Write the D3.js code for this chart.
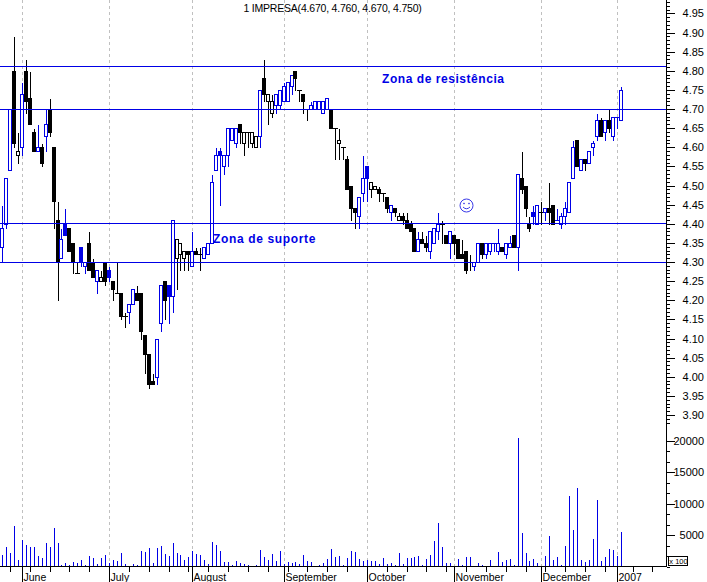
<!DOCTYPE html>
<html>
<head>
<meta charset="utf-8">
<script src="https://cdn.jsdelivr.net/npm/d3@7"></script>
<style>
  html, body { margin: 0; padding: 0; background: #fff; }
  svg { display: block; font-family: "Liberation Sans", Arial, sans-serif; }
  text { fill: #000; }
</style>
</head>
<body>
<div id="js_chart"></div>
<script>
// daily prices, one row per ten sessions
const opens = [
  4.34,4.40,4.54,4.80,4.58,4.60,4.80,4.73,4.64,4.59,
  4.60,4.63,4.70,4.60,4.41,4.31,4.40,4.39,4.35,4.27,
  4.34,4.29,4.35,4.30,4.25,4.25,4.30,4.28,4.25,4.22,
  4.22,4.16,4.17,4.19,4.22,4.22,4.11,4.06,3.99,4.00,
  4.14,4.25,4.24,4.21,4.31,4.32,4.31,4.33,4.29,4.33,
  4.32,4.31,4.32,4.35,4.54,4.59,4.55,4.58,4.62,4.61,
  4.66,4.61,4.64,4.61,4.60,4.63,4.78,4.72,4.69,4.71,
  4.71,4.72,4.72,4.76,4.80,4.75,4.74,4.70,4.70,4.70,
  4.70,4.69,4.70,4.70,4.65,4.61,4.60,4.57,4.50,4.44,
  4.42,4.48,4.55,4.49,4.49,4.49,4.48,4.47,4.43,4.44,
  4.41,4.42,4.41,4.40,4.39,4.33,4.36,4.35,4.33,4.35,
  4.38,4.40,4.37,4.35,4.37,4.36,4.32,4.33,4.30,4.29,
  4.30,4.35,4.32,4.33,4.35,4.33,4.34,4.32,4.34,4.37,
  4.34,4.52,4.50,4.40,4.43,4.40,4.43,4.43,4.44,4.45,
  4.41,4.40,4.42,4.43,4.52,4.62,4.54,4.57,4.56,4.60,
  4.63,4.67,4.64,4.67,4.63,4.68,4.67
];
const highs = [
  4.45,4.52,4.70,4.89,4.64,4.77,4.83,4.80,4.65,4.66,
  4.61,4.70,4.73,4.60,4.46,4.39,4.44,4.39,4.35,4.30,
  4.34,4.30,4.38,4.31,4.28,4.28,4.30,4.29,4.25,4.30,
  4.22,4.17,4.19,4.23,4.24,4.22,4.11,4.06,4.01,4.10,
  4.24,4.25,4.24,4.41,4.36,4.35,4.33,4.33,4.38,4.34,
  4.34,4.34,4.35,4.53,4.60,4.60,4.58,4.65,4.65,4.65,
  4.66,4.64,4.64,4.64,4.63,4.75,4.83,4.74,4.74,4.74,
  4.75,4.77,4.77,4.79,4.80,4.75,4.74,4.70,4.72,4.72,
  4.72,4.72,4.73,4.70,4.65,4.65,4.60,4.58,4.50,4.44,
  4.47,4.58,4.55,4.51,4.50,4.50,4.48,4.47,4.45,4.44,
  4.43,4.43,4.43,4.41,4.39,4.38,4.38,4.37,4.38,4.39,
  4.43,4.41,4.37,4.38,4.37,4.36,4.36,4.33,4.32,4.30,
  4.35,4.35,4.35,4.35,4.35,4.39,4.34,4.35,4.37,4.37,
  4.53,4.59,4.50,4.42,4.45,4.45,4.46,4.44,4.51,4.45,
  4.44,4.43,4.46,4.51,4.62,4.62,4.57,4.57,4.59,4.62,
  4.69,4.68,4.67,4.70,4.68,4.68,4.76
];
const lows = [
  4.30,4.39,4.54,4.60,4.56,4.58,4.69,4.66,4.59,4.59,
  4.55,4.59,4.63,4.39,4.20,4.31,4.37,4.33,4.27,4.27,
  4.29,4.27,4.28,4.26,4.22,4.25,4.24,4.25,4.20,4.22,
  4.15,4.13,4.14,4.19,4.20,4.10,4.01,3.97,3.98,3.98,
  4.12,4.15,4.14,4.17,4.23,4.28,4.28,4.28,4.29,4.32,
  4.28,4.31,4.32,4.35,4.54,4.45,4.53,4.55,4.62,4.60,
  4.61,4.58,4.60,4.60,4.60,4.60,4.72,4.66,4.68,4.69,
  4.70,4.72,4.72,4.74,4.75,4.72,4.69,4.67,4.70,4.70,
  4.70,4.69,4.70,4.65,4.57,4.57,4.57,4.49,4.41,4.39,
  4.39,4.46,4.46,4.47,4.49,4.46,4.46,4.43,4.41,4.42,
  4.41,4.40,4.39,4.38,4.33,4.33,4.35,4.33,4.31,4.35,
  4.36,4.35,4.35,4.31,4.32,4.31,4.31,4.27,4.28,4.28,
  4.30,4.31,4.31,4.32,4.33,4.32,4.33,4.31,4.34,4.34,
  4.28,4.48,4.42,4.38,4.40,4.40,4.40,4.41,4.40,4.40,
  4.41,4.39,4.40,4.43,4.52,4.55,4.54,4.54,4.56,4.58,
  4.62,4.63,4.62,4.64,4.62,4.65,4.67
];
const closes = [
  4.39,4.52,4.70,4.61,4.59,4.74,4.72,4.66,4.59,4.60,
  4.56,4.66,4.64,4.46,4.30,4.36,4.37,4.33,4.30,4.27,
  4.30,4.30,4.28,4.26,4.28,4.26,4.25,4.26,4.23,4.22,
  4.16,4.16,4.19,4.23,4.20,4.12,4.06,3.98,3.98,4.10,
  4.24,4.20,4.21,4.41,4.36,4.35,4.33,4.32,4.33,4.32,
  4.32,4.34,4.35,4.51,4.58,4.58,4.58,4.65,4.65,4.65,
  4.64,4.64,4.64,4.64,4.63,4.75,4.74,4.74,4.72,4.74,
  4.75,4.76,4.77,4.79,4.78,4.75,4.72,4.70,4.71,4.72,
  4.72,4.72,4.73,4.65,4.65,4.62,4.60,4.49,4.44,4.43,
  4.47,4.52,4.52,4.51,4.50,4.48,4.48,4.44,4.45,4.43,
  4.42,4.41,4.39,4.38,4.33,4.36,4.35,4.34,4.38,4.39,
  4.40,4.40,4.35,4.38,4.35,4.31,4.31,4.28,4.30,4.30,
  4.35,4.32,4.35,4.35,4.35,4.35,4.33,4.35,4.35,4.34,
  4.53,4.49,4.44,4.39,4.42,4.45,4.43,4.44,4.43,4.40,
  4.41,4.42,4.44,4.51,4.60,4.55,4.57,4.56,4.59,4.61,
  4.67,4.63,4.67,4.65,4.68,4.68,4.75
];
// 1 = blue candle, 0 = black candle
const tones = [
  1,1,1,0,0,1,0,0,0,1,
  0,1,0,0,0,1,1,0,0,0,
  1,1,0,0,1,0,0,1,0,0,
  0,0,1,1,0,0,0,0,0,1,
  1,0,1,1,0,0,0,0,1,0,
  0,1,1,1,1,1,1,1,1,1,
  0,0,0,0,0,1,0,0,0,1,
  1,1,1,1,0,0,0,0,1,1,
  1,1,1,0,0,0,0,0,0,0,
  1,1,1,0,0,0,0,0,1,0,
  0,0,0,0,0,1,0,0,1,1,
  1,0,0,1,0,0,0,0,0,1,
  1,0,1,1,1,1,0,1,1,0,
  1,0,0,0,1,1,0,1,0,0,
  1,1,1,1,1,0,1,0,1,1,
  1,0,1,0,1,1,1
];
const volumes = [
  1760,3040,2080,6400,960,4160,3360,3040,3040,1600,
  1280,3680,3040,6080,3680,160,480,160,640,480,
  960,160,1600,1280,320,1280,1760,480,960,800,
  2080,320,0,320,160,2400,2240,2880,480,2880,
  3200,1920,1600,3680,2080,1760,960,1440,2400,1920,
  1760,960,320,3840,3360,2400,640,640,160,800,
  480,320,160,0,160,2560,1440,960,1920,800,
  2400,320,640,480,640,320,1760,800,640,0,
  160,480,1120,2720,1440,1600,160,1280,2400,2240,
  1120,800,960,800,800,320,1280,320,480,160,
  2080,320,1280,1280,1440,1600,160,1120,1760,4000,
  6880,3040,480,480,0,1120,160,1440,1440,0,
  480,160,0,960,0,2240,640,960,1120,160,
  20480,5280,2080,800,1120,480,0,1600,4800,960,
  1440,160,3200,11200,5760,12480,960,640,960,4320,
  10560,800,1440,2720,2560,1600,5440
];

const months = ["June", "July", "August", "September", "October", "November", "December", "2007"];
const monthStarts = [5, 27, 48, 71, 92, 114, 136, 155];
const weekTicks = [2, 7, 12, 17, 22, 32, 37, 42, 47, 52, 57, 62, 67, 72, 77, 82, 87, 97, 102, 107, 112, 117,
  122, 127, 132, 137, 142, 147, 152, 159, 164];
const supportLevels = [4.812, 4.70, 4.402, 4.30];
const priceLabels = d3.range(78, 100).map(d => d * 0.05);
const priceMinor = d3.range(388, 499).map(d => d / 100);
const volumeLabels = [5000, 10000, 15000, 20000];
const volumeMinor = d3.range(0, 13).map(d => d * 5000 / 3);

const width = 707, height = 582;
const axisX = 666.5, baseY = 566.5;
const blue = "#0000e6";

const svg = d3.select("#js_chart").append("svg")
    .attr("width", width)
    .attr("height", height)
    .attr("viewBox", [0, 0, width, height]);

const x = d3.scaleLinear().domain([0, 156]).range([2, 620.7]);
const y = d3.scaleLinear().domain([3.90, 4.70]).range([415, 109]);
const yVol = d3.scaleLinear().domain([0, 20000]).range([baseY, 440.7]);
const px = i => Math.round(x(i));
const py = v => Math.round(y(v)) + 0.5;

const crisp = svg.append("g").attr("shape-rendering", "crispEdges");

// month gridlines
crisp.append("g")
  .selectAll("line")
  .data(monthStarts)
  .join("line")
    .attr("x1", d => px(d) + 0.5)
    .attr("x2", d => px(d) + 0.5)
    .attr("y1", 0)
    .attr("y2", baseY)
    .attr("stroke", "#c0c0c0")
    .attr("stroke-dasharray", "3,3");

// candles
const days = d3.range(opens.length);
const candles = crisp.append("g")
  .selectAll("g")
  .data(days)
  .join("g")
    .attr("stroke", d => tones[d] ? blue : "#000");

candles.append("line")
    .attr("x1", d => px(d) + 0.5)
    .attr("x2", d => px(d) + 0.5)
    .attr("y1", d => py(highs[d]))
    .attr("y2", d => py(lows[d]));

candles.filter(d => opens[d] !== closes[d]).append("rect")
    .attr("x", d => px(d) - 1.5)
    .attr("width", 3)
    .attr("y", d => py(Math.max(opens[d], closes[d])))
    .attr("height", d => py(Math.min(opens[d], closes[d])) - py(Math.max(opens[d], closes[d])))
    .attr("fill", d => closes[d] > opens[d] ? "#fff" : (tones[d] ? blue : "#000"));

candles.filter(d => opens[d] === closes[d]).append("line")
    .attr("x1", d => px(d) - 2)
    .attr("x2", d => px(d) + 3)
    .attr("y1", d => py(closes[d]))
    .attr("y2", d => py(closes[d]));

// volume
crisp.append("g")
  .selectAll("line")
  .data(days.filter(d => volumes[d] > 0))
  .join("line")
    .attr("x1", d => px(d) + 0.5)
    .attr("x2", d => px(d) + 0.5)
    .attr("y1", baseY)
    .attr("y2", d => yVol(volumes[d]))
    .attr("stroke", blue);

// support and resistance lines
crisp.append("g")
  .selectAll("line")
  .data(supportLevels)
  .join("line")
    .attr("x1", 0)
    .attr("x2", axisX)
    .attr("y1", d => py(d))
    .attr("y2", d => py(d))
    .attr("stroke", blue);

// price axis
const priceMinorAxis = d3.axisRight(y).tickValues(priceMinor).tickSize(3).tickFormat("").tickSizeOuter(0);
const priceAxis = d3.axisRight(y).tickValues(priceLabels).tickSize(8).tickFormat(d3.format(".2f"));
const volMinorAxis = d3.axisRight(yVol).tickValues(volumeMinor).tickSize(3).tickFormat("").tickSizeOuter(0);
const volAxis = d3.axisRight(yVol).tickValues(volumeLabels).tickSize(8).tickFormat(d3.format("d"));

[priceMinorAxis, priceAxis, volMinorAxis, volAxis].forEach(axis => {
  const g = crisp.append("g")
      .attr("transform", `translate(${axisX},0)`)
      .call(axis);
  g.select(".domain").remove();
  g.selectAll("text")
      .attr("x", 37.5)
      .attr("text-anchor", "end")
      .attr("font-size", 11)
      .attr("font-family", "Liberation Sans, Arial, sans-serif")
      .attr("shape-rendering", "auto");
});

crisp.append("line")
    .attr("x1", axisX)
    .attr("x2", axisX)
    .attr("y1", 0)
    .attr("y2", baseY)
    .attr("stroke", "#000");

// time axis
crisp.append("line")
    .attr("x1", 0)
    .attr("x2", axisX)
    .attr("y1", baseY)
    .attr("y2", baseY)
    .attr("stroke", "#000");

const weekAxis = d3.axisBottom(x).tickValues(weekTicks).tickSize(5).tickFormat("").tickSizeOuter(0);
crisp.append("g")
    .attr("transform", `translate(0,${baseY})`)
    .call(weekAxis)
    .call(g => g.select(".domain").remove());

crisp.append("g")
  .selectAll("line")
  .data(monthStarts)
  .join("line")
    .attr("x1", d => px(d) + 0.5)
    .attr("x2", d => px(d) + 0.5)
    .attr("y1", baseY)
    .attr("y2", height)
    .attr("stroke", "#000");

svg.append("g")
  .selectAll("text")
  .data(months)
  .join("text")
    .attr("x", (d, i) => px(monthStarts[i]) + 1.5)
    .attr("y", 581)
    .attr("font-size", 10.5)
    .text(d => d);

// volume multiplier box
crisp.append("rect")
    .attr("x", 668.5)
    .attr("y", 556.5)
    .attr("width", 19)
    .attr("height", 9)
    .attr("fill", "#fff")
    .attr("stroke", "#000");

svg.append("text")
    .attr("x", 678.5)
    .attr("y", 564)
    .attr("text-anchor", "middle")
    .attr("font-size", 7.5)
    .text("x 100");

// title and notes
svg.append("text")
    .attr("x", 332.5)
    .attr("y", 12)
    .attr("text-anchor", "middle")
    .attr("font-size", 10.5)
    .attr("letter-spacing", -0.2)
    .text("1 IMPRESA(4.670, 4.760, 4.670, 4.750)");

svg.append("text")
    .attr("x", 382)
    .attr("y", 83)
    .attr("font-size", 12)
    .attr("font-weight", "bold")
    .attr("letter-spacing", 0.55)
    .style("fill", blue)
    .text("Zona de resistência");

svg.append("text")
    .attr("x", 213)
    .attr("y", 243)
    .attr("font-size", 12)
    .attr("font-weight", "bold")
    .attr("letter-spacing", 0.65)
    .style("fill", blue)
    .text("Zona de suporte");

// smiley
const smiley = svg.append("g")
    .attr("transform", "translate(466.5,205.5)")
    .attr("fill", "none")
    .attr("stroke", "#3a3ae8");
smiley.append("circle").attr("r", 6.5);
smiley.append("circle").attr("cx", -2.5).attr("cy", -2).attr("r", 0.5);
smiley.append("circle").attr("cx", 2.5).attr("cy", -2).attr("r", 0.5);
smiley.append("path").attr("d", "M-3.5,1.5Q0,5 3.5,1.5");
</script>
</body>
</html>
